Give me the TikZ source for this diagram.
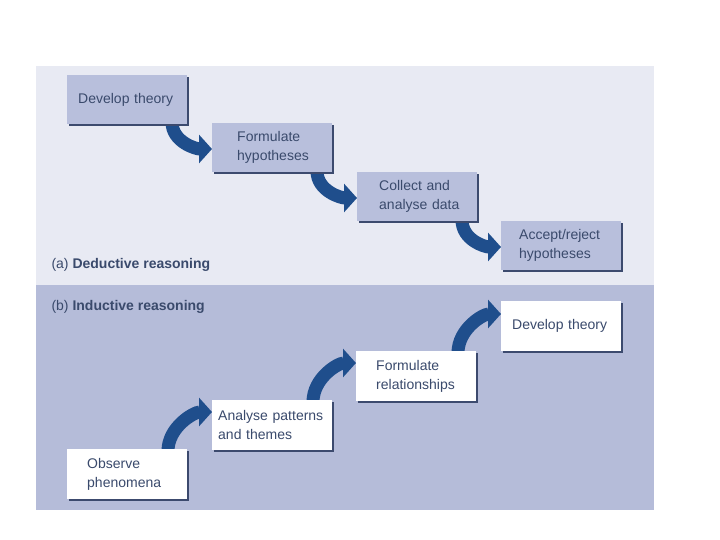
\documentclass[tikz,border=0pt]{standalone}
\usepackage{fontspec}
\setmainfont{Liberation Sans}
\usetikzlibrary{arrows.meta}
\definecolor{topbg}{HTML}{E8EAF3}
\definecolor{botbg}{HTML}{B5BCD9}
\definecolor{boxa}{HTML}{B8BFDC}
\definecolor{shad}{HTML}{3C4A6E}
\definecolor{txt}{HTML}{3A4A6C}
\definecolor{arr}{HTML}{1F4E8C}
\begin{document}
\begin{tikzpicture}[x=1pt,y=-1pt,
  box/.style={draw=none,minimum width=120pt,minimum height=49pt,align=left,
    font=\fontsize{14}{19}\selectfont,text=txt,anchor=north west,inner sep=0pt,
    text width=120pt},
  bigarrow/.style={draw=arr,line width=13pt,-{Triangle[length=13pt,width=28pt]}},
  lab/.style={font=\fontsize{14}{16}\selectfont,text=txt,anchor=west}]
\useasboundingbox (0,0) rectangle (720,540);
\fill[white] (0,0) rectangle (720,540);
\fill[topbg] (36,66) rectangle (654,285);
\fill[botbg] (36,285) rectangle (654,510);
% arrows
\coordinate (a1s) at (172,122); \coordinate (a1e) at (212,149);
\coordinate (a2s) at (317,171); \coordinate (a2e) at (357,198);
\coordinate (a3s) at (462,220); \coordinate (a3e) at (501,247);
\foreach \s/\e in {a1s/a1e,a2s/a2e,a3s/a3e}
  \draw[bigarrow] (\s) .. controls ([yshift=-20pt]\s) and ([xshift=-16pt]\e) .. (\e);
\coordinate (c1s) at (168,451); \coordinate (c1e) at (212,412);
\coordinate (c2s) at (313,402); \coordinate (c2e) at (356,363);
\coordinate (c3s) at (458,353); \coordinate (c3e) at (501,314);
\foreach \s/\e in {c1s/c1e,c2s/c2e,c3s/c3e}
  \draw[bigarrow] (\s) .. controls ([yshift=24pt]\s) and ([xshift=-18pt]\e) .. (\e);
% top boxes
\foreach \x/\y in {67/75,212/123,357/172,501/221}{
  \fill[shad] (\x+2,\y+2) rectangle (\x+122,\y+51);
  \fill[boxa] (\x,\y) rectangle (\x+120,\y+49);}
\foreach \x/\y in {67/449,212/400,356/351,501/301}{
  \fill[shad] (\x+2,\y+2) rectangle (\x+122,\y+52);
  \fill[white] (\x,\y) rectangle (\x+120,\y+50);}
\node[box] (t1) at (67,75) {\hspace*{11pt}\parbox[c][49pt]{104pt}{Develop theory}};
\node[box] (t2) at (212,123) {\hspace*{25pt}\parbox[c][49pt]{95pt}{Formulate\\hypotheses}};
\node[box] (t3) at (357,172) {\hspace*{22pt}\parbox[c][49pt]{98pt}{Collect and\\analyse data}};
\node[box] (t4) at (501,221) {\hspace*{18pt}\parbox[c][49pt]{102pt}{Accept/reject\\hypotheses}};
\node[box] (b1) at (67,449) {\hspace*{20pt}\parbox[c][50pt]{100pt}{Observe\\phenomena}};
\node[box] (b2) at (212,400) {\hspace*{6pt}\parbox[c][50pt]{114pt}{Analyse patterns\\and themes}};
\node[box] (b3) at (356,351) {\hspace*{20pt}\parbox[c][50pt]{100pt}{Formulate\\relationships}};
\node[box] (b4) at (501,301) {\hspace*{11pt}\parbox[c][50pt]{109pt}{Develop theory}};
\node[lab] (la) at (48,265) {(a) \textbf{Deductive reasoning}};
\node[lab] (lb) at (48,307) {(b) \textbf{Inductive reasoning}};
\end{tikzpicture}
\end{document}
